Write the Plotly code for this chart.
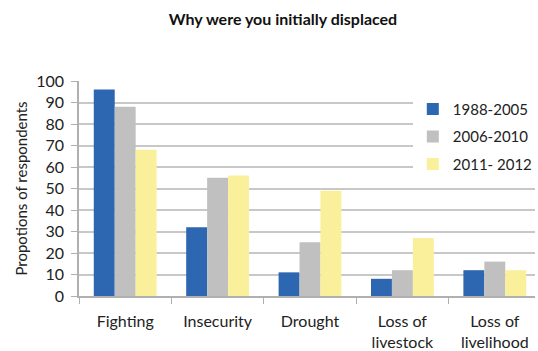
import plotly.graph_objects as go

# Reasons for initial displacement, share of respondents (%) by period
categories = ["Fighting", "Insecurity", "Drought", "Loss of<br>livestock", "Loss of<br>livelihood"]
period_names = ["1988-2005", "2006-2010", "2011- 2012"]
vals_1988_2005 = [96, 32, 11, 8, 12]
vals_2006_2010 = [88, 55, 25, 12, 16]
vals_2011_2012 = [68, 56, 49, 27, 12]
bar_colors = ["#2e67b1", "#c0c0c0", "#faf09c"]

FONT = "Lato, 'Open Sans', sans-serif"

fig = go.Figure()
for name, vals, col in zip(period_names, [vals_1988_2005, vals_2006_2010, vals_2011_2012], bar_colors):
    fig.add_trace(go.Bar(
        x=categories, y=vals, name=name, legendgroup=name,
        marker=dict(color=col, line=dict(width=0)),
    ))

fig.update_layout(
    width=538, height=351,
    margin=dict(l=79, r=0, t=81, b=53),
    paper_bgcolor="white", plot_bgcolor="white",
    font=dict(family=FONT, size=15, color="#222222"),
    title=dict(
        text="<b>Why were you initially displaced</b>",
        x=283 / 538, xanchor="center", xref="container",
        y=1 - 19 / 351, yanchor="middle", yref="container",
        font=dict(family=FONT, size=16, color="#111111"),
    ),
    barmode="group", bargap=0.32, bargroupgap=0,
    showlegend=True,
    legend=dict(
        x=(415 - 79) / 459, xanchor="left", y=1 - (93 - 81) / 217.3, yanchor="top",
        bgcolor="white", borderwidth=0, traceorder="grouped", tracegroupgap=5,
        font=dict(family=FONT, size=15, color="#222222"),
    ),
)

fig.update_xaxes(
    type="category", range=[-0.5, 4.435],
    showgrid=False, showline=True, linecolor="#b0b0b0", linewidth=1.5,
    ticks="outside", tickson="boundaries", ticklen=6, tickcolor="#b0b0b0",
    tickfont=dict(family=FONT, size=16, color="#222222"),
    ticklabelstandoff=10,
)
fig.update_yaxes(
    range=[0, 100], dtick=10, tick0=0,
    showgrid=True, gridcolor="#c8c8c8", gridwidth=2, zeroline=False,
    showline=True, linecolor="#b0b0b0", linewidth=1.5,
    ticks="outside", ticklen=6, tickcolor="#b0b0b0",
    tickfont=dict(family=FONT, size=16, color="#222222"),
    ticklabelstandoff=4,
    title=dict(text="Propotions of respondents", standoff=5,
               font=dict(family=FONT, size=15, color="#222222")),
)

fig.write_html("out.html")
